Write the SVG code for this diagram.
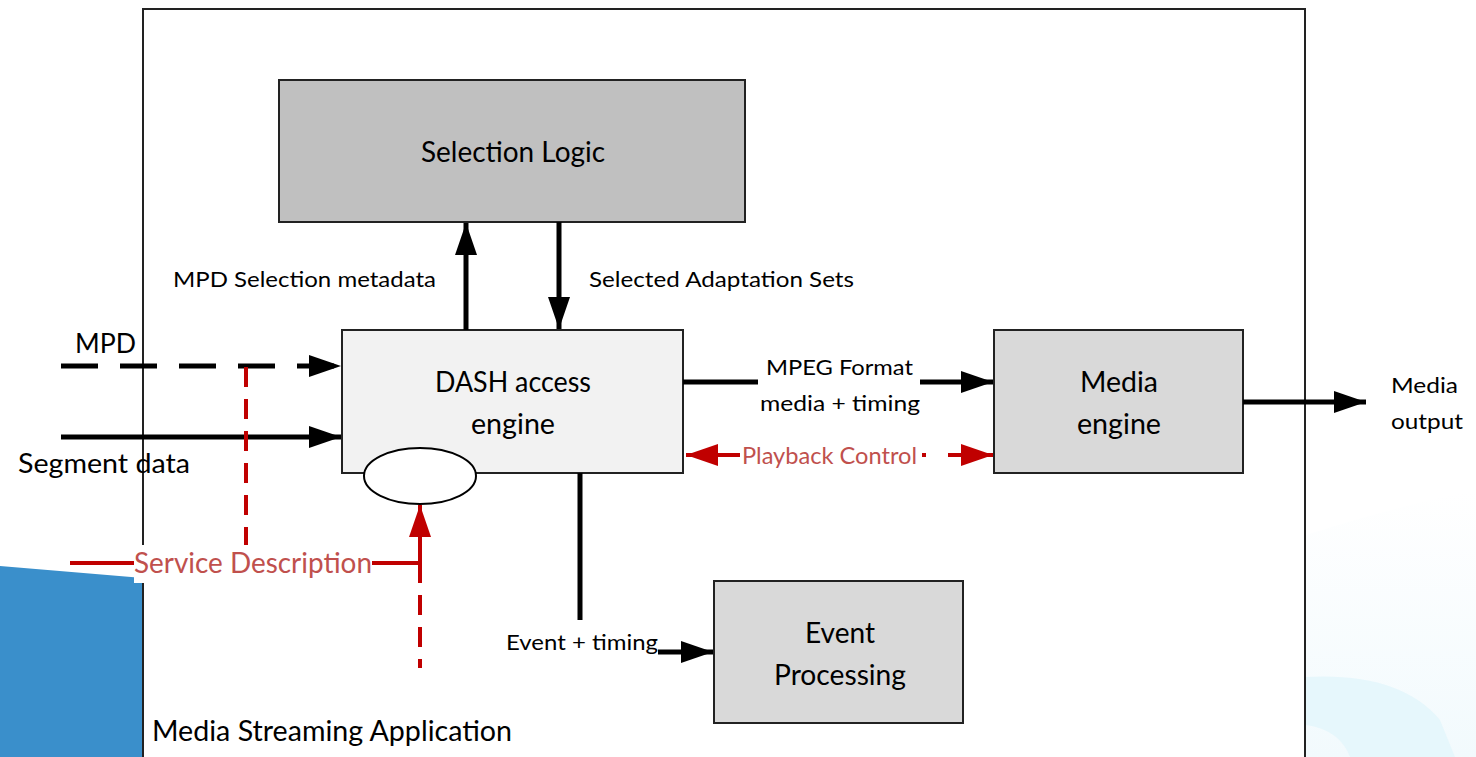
<svg xmlns="http://www.w3.org/2000/svg" width="1476" height="757" viewBox="0 0 1476 757">
<style>
.t{font-family:Lato,"Liberation Sans",Arial,sans-serif;fill:#000}
.r{fill:#C0504D}
.box{stroke:#222;stroke-width:2}
.bl{stroke:#000;stroke-width:5;fill:none}
.rd{stroke:#C00000;stroke-width:4;fill:none}
</style>
<defs>
<marker id="ab" markerUnits="userSpaceOnUse" markerWidth="34" markerHeight="24" refX="32" refY="12" orient="auto"><path d="M0,1 L32,12 L0,23 z" fill="#000"/></marker>
<marker id="ar" markerUnits="userSpaceOnUse" markerWidth="34" markerHeight="24" refX="32" refY="12" orient="auto"><path d="M0,1 L32,12 L0,23 z" fill="#C00000"/></marker>
<linearGradient id="cy" x1="0" y1="0" x2="0" y2="1"><stop offset="0" stop-color="#FFFFFF"/><stop offset="1" stop-color="#F2FAFD"/></linearGradient>
</defs>
<rect width="1476" height="757" fill="#fff"/>
<g id="background">
<path d="M0,566 L143,578 L143,757 L0,757 z" fill="#3A8FCB"/>
<path d="M1306,535 Q1400,505 1476,490 L1476,757 L1306,757 z" fill="url(#cy)"/>
<path d="M1306,677 Q1400,672 1440,720 L1455,757 L1350,757 Q1340,730 1306,725 z" fill="#E6F7FC"/>
</g>
<g id="frame"><path d="M143,757 L143,9 L1305,9 L1305,757" fill="#fff" stroke="#222" stroke-width="2"/></g>
<g id="selection-logic"><rect class="box" x="279" y="80" width="466" height="142" fill="#C0C0C0"/><text class="t" x="513" y="162" font-size="28" text-anchor="middle" textLength="184" lengthAdjust="spacingAndGlyphs">Selection Logic</text></g>
<g id="dash-engine"><rect class="box" x="342" y="330" width="341" height="143" fill="#F2F2F2"/><text class="t" x="513" y="392" font-size="28" text-anchor="middle" textLength="156" lengthAdjust="spacingAndGlyphs">DASH access</text><text class="t" x="513" y="434" font-size="28" text-anchor="middle" textLength="84" lengthAdjust="spacingAndGlyphs">engine</text></g>
<g id="service-ellipse"><ellipse cx="420" cy="476" rx="56" ry="28" fill="#fff" stroke="#000" stroke-width="2"/></g>
<g id="media-engine"><rect class="box" x="994" y="330" width="249" height="143" fill="#D9D9D9"/><text class="t" x="1119" y="392" font-size="28" text-anchor="middle" textLength="78" lengthAdjust="spacingAndGlyphs">Media</text><text class="t" x="1119" y="434" font-size="28" text-anchor="middle" textLength="84" lengthAdjust="spacingAndGlyphs">engine</text></g>
<g id="event-processing"><rect class="box" x="714" y="581" width="249" height="142" fill="#D9D9D9"/><text class="t" x="840" y="643" font-size="28" text-anchor="middle" textLength="70" lengthAdjust="spacingAndGlyphs">Event</text><text class="t" x="840" y="685" font-size="28" text-anchor="middle" textLength="132" lengthAdjust="spacingAndGlyphs">Processing</text></g>
<g id="connectors">
<line class="bl" x1="466" y1="330" x2="466" y2="223" marker-end="url(#ab)"/>
<line class="bl" x1="559" y1="222" x2="559" y2="329" marker-end="url(#ab)"/>
<line class="bl" x1="61" y1="366" x2="341" y2="366" stroke-dasharray="37 22" marker-end="url(#ab)"/>
<line class="bl" x1="61" y1="437" x2="341" y2="437" marker-end="url(#ab)"/>
<line class="rd" x1="246" y1="367" x2="246" y2="556" stroke-dasharray="20 12"/>
<line class="rd" x1="70" y1="563" x2="136" y2="563"/>
<polyline class="rd" points="370,563 420,563 420,505" marker-end="url(#ar)"/>
<line class="rd" x1="420" y1="563" x2="420" y2="668" stroke-dasharray="20 12"/>
<polyline class="bl" points="683,382 758,382"/>
<line class="bl" x1="920" y1="382" x2="993" y2="382" marker-end="url(#ab)"/>
<line class="rd" x1="740" y1="455" x2="686" y2="455" marker-end="url(#ar)"/>
<line class="rd" x1="922" y1="455" x2="926" y2="455"/>
<line class="rd" x1="948" y1="455" x2="993" y2="455" marker-end="url(#ar)"/>
<line class="bl" x1="580" y1="473" x2="580" y2="620"/>
<line class="bl" x1="658" y1="652" x2="713" y2="652" marker-end="url(#ab)"/>
<line class="bl" x1="1243" y1="402" x2="1366" y2="402" marker-end="url(#ab)"/>
</g>
<g id="labels">
<text class="t" x="173" y="287" font-size="22" textLength="263" lengthAdjust="spacingAndGlyphs">MPD Selection metadata</text>
<text class="t" x="589" y="287" font-size="22" textLength="265" lengthAdjust="spacingAndGlyphs">Selected Adaptation Sets</text>
<text class="t" x="75" y="353" font-size="26" textLength="61" lengthAdjust="spacingAndGlyphs">MPD</text>
<text class="t" x="18" y="473" font-size="26" textLength="172" lengthAdjust="spacingAndGlyphs">Segment data</text>
<text class="t" x="766" y="375" font-size="22" textLength="147" lengthAdjust="spacingAndGlyphs">MPEG Format</text>
<text class="t" x="760" y="411" font-size="22" textLength="160" lengthAdjust="spacingAndGlyphs">media + timing</text>
<text class="t r" x="742" y="464" font-size="23" textLength="175" lengthAdjust="spacingAndGlyphs">Playback Control</text>
<rect x="134" y="545" width="238" height="38" fill="#fff"/>
<text class="t r" x="134" y="573" font-size="28" textLength="238" lengthAdjust="spacingAndGlyphs">Service Description</text>
<text class="t" x="506" y="650" font-size="22" textLength="152" lengthAdjust="spacingAndGlyphs">Event + timing</text>
<text class="t" x="1391" y="393" font-size="22" textLength="67" lengthAdjust="spacingAndGlyphs">Media</text>
<text class="t" x="1391" y="429" font-size="22" textLength="72" lengthAdjust="spacingAndGlyphs">output</text>
<text class="t" x="152" y="741" font-size="28" textLength="360" lengthAdjust="spacingAndGlyphs">Media Streaming Application</text>
</g>
</svg>
